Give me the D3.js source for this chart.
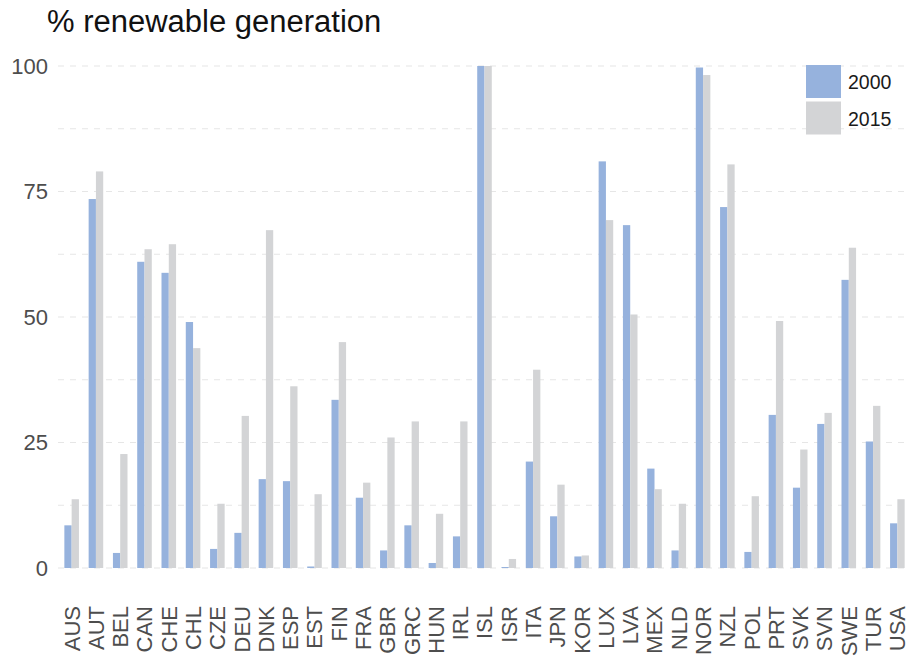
<!DOCTYPE html>
<html><head><meta charset="utf-8">
<script src="https://cdn.jsdelivr.net/npm/d3@7/dist/d3.min.js"></script>
<style>body{margin:0;background:#fff;}svg{display:block;font-family:"Liberation Sans",Arial,sans-serif;}</style>
</head><body><svg id="c" width="912" height="659"></svg>
<script>
const countries = ["AUS","AUT","BEL","CAN","CHE","CHL","CZE","DEU","DNK","ESP","EST","FIN","FRA","GBR","GRC","HUN","IRL","ISL","ISR","ITA","JPN","KOR","LUX","LVA","MEX","NLD","NOR","NZL","POL","PRT","SVK","SVN","SWE","TUR","USA"];
const v2000 = [8.5,73.5,3,61,58.8,49,3.8,7,17.7,17.3,0.3,33.5,14,3.5,8.5,1,6.3,100,0.2,21.2,10.3,2.3,81,68.3,19.8,3.5,99.7,71.9,3.2,30.5,16,28.7,57.4,25.2,8.9];
const v2015 = [13.7,79,22.7,63.5,64.5,43.8,12.8,30.3,67.3,36.2,14.7,45,17,26,29.2,10.8,29.2,100,1.8,39.5,16.6,2.5,69.3,50.5,15.7,12.8,98.2,80.4,14.3,49.2,23.6,30.9,63.8,32.3,13.7];
const years = ["2000","2015"];
const yTicks = [0,25,50,75,100];
const gridVals = [0,12.5,25,37.5,50,62.5,75,87.5,100];
const colors = ["#96b2dd","#d3d4d6"];
const title = "% renewable generation";

const svg = d3.select("#c");
const x = d3.scaleBand().domain(countries).range([59.5,909.5]).paddingInner(0.4).paddingOuter(0.2);
const xs = d3.scaleBand().domain(years).range([0,x.bandwidth()]);
const y = d3.scaleLinear().domain([0,100]).range([568,66]);

// grid
svg.append("g").selectAll("line").data(gridVals).join("line")
  .attr("x1",58).attr("x2",910).attr("y1",d=>y(d)).attr("y2",d=>y(d))
  .attr("stroke","#e6e6e6").attr("stroke-width",1.2).attr("stroke-dasharray","6,6");

// y axis
const ya = svg.append("g").attr("transform","translate(58,0)")
  .call(d3.axisLeft(y).tickValues(yTicks).tickSize(0).tickPadding(10).tickFormat(d3.format("d")));
ya.select(".domain").remove();
ya.selectAll("text").attr("font-size",22).attr("fill","#4d4d4d").attr("font-family","Liberation Sans, Arial, sans-serif");

// bars
const data = countries.map((c,i)=>({c, vals:[v2000[i],v2015[i]]}));
const g = svg.append("g").selectAll("g").data(data).join("g").attr("transform",d=>`translate(${x(d.c)},0)`);
g.selectAll("rect").data(d=>d.vals.map((v,j)=>({yr:years[j],v,j}))).join("rect")
  .attr("x",d=>xs(d.yr)).attr("width",xs.bandwidth())
  .attr("y",d=>y(d.v)).attr("height",d=>y(0)-y(d.v))
  .attr("fill",d=>colors[d.j]);

// x axis
const xa = svg.append("g").attr("transform","translate(0,596)")
  .call(d3.axisBottom(x).tickSize(0).tickPadding(0));
xa.select(".domain").remove();
xa.selectAll("text").attr("font-size",22).attr("fill","#4d4d4d")
  .attr("font-family","Liberation Sans, Arial, sans-serif")
  .attr("transform","rotate(-90)").attr("text-anchor","end")
  .attr("x",-10).attr("y",0).attr("dy","0.36em");

// legend
const leg = svg.append("g").attr("transform","translate(806,65)");
years.forEach((yr,i)=>{
  leg.append("rect").attr("x",0).attr("y",i*36.5).attr("width",35).attr("height",33).attr("fill",colors[i]);
  leg.append("text").attr("x",42).attr("y",i*36.5+17).attr("dy","0.36em").attr("font-size",19.5).attr("fill","#1a1a1a").text(yr);
});

// title
svg.append("text").attr("x",47).attr("y",32).attr("font-size",31).attr("fill","#111").text(title);
</script></body></html>
